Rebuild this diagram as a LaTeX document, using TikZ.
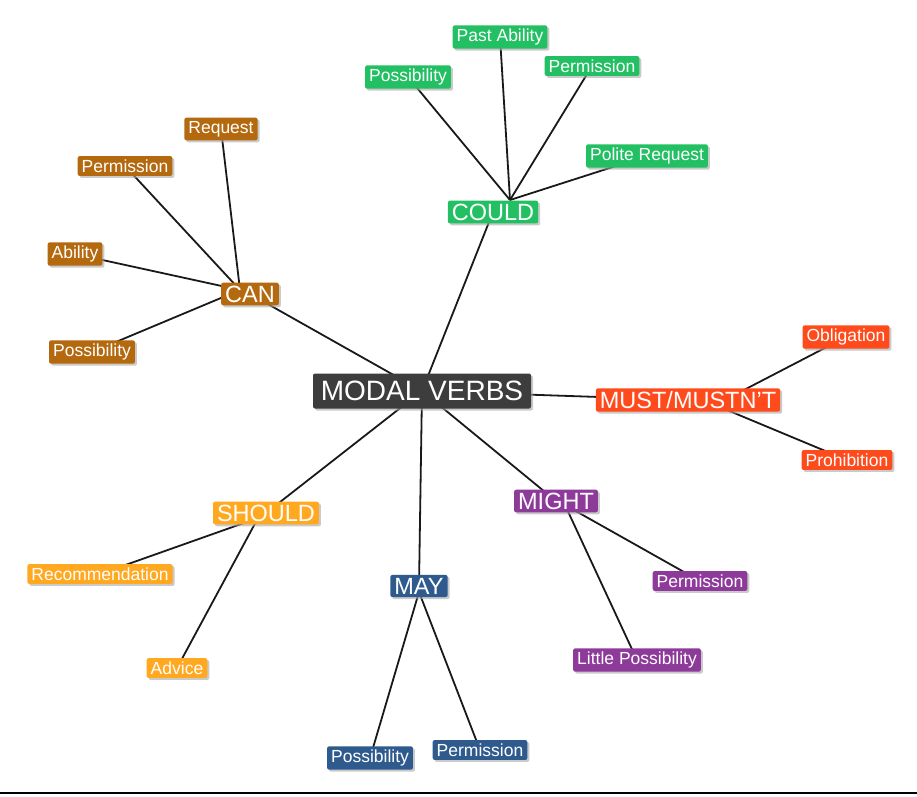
\documentclass[tikz,border=0pt]{standalone}
\usepackage{fontspec}
\setmainfont{Liberation Sans}
\usetikzlibrary{shadows}
\pgfdeclarelayer{bg}\pgfsetlayers{bg,main}
\definecolor{cmain}{HTML}{3D3D3D}
\definecolor{cgreen}{HTML}{22C063}
\definecolor{cbrown}{HTML}{B5690F}
\definecolor{cred}{HTML}{FF4A1C}
\definecolor{cpurple}{HTML}{8E3A9A}
\definecolor{cblue}{HTML}{2F5A8E}
\definecolor{corange}{HTML}{FFA820}
\begin{document}
\begin{tikzpicture}[x=1pt,y=-1pt,
  box/.style={text=white,inner xsep=4pt,inner ysep=3.5pt,rounded corners=2pt,
    drop shadow={shadow xshift=2pt,shadow yshift=-2pt,fill=black!35,opacity=0.6},
    font=\fontsize{17.5}{19}\selectfont},
  hub/.style={box,font=\fontsize{23.5}{25}\selectfont,inner ysep=3pt},
  link/.style={draw=black!90,line width=1.8pt}]
\useasboundingbox (0,0) rectangle (917,796);
\draw[line width=2pt] (0,793) -- (917,793);
\node[hub,fill=cmain,font=\fontsize{28}{30}\selectfont,minimum width=218pt,minimum height=35pt] (mv) at (422,391) {MODAL VERBS};
\node[hub,fill=cgreen] (could) at (493,212) {COULD};
\node[box,fill=cgreen] (c1) at (500,37) {Past Ability};
\node[box,fill=cgreen] (c2) at (408,77) {Possibility};
\node[box,fill=cgreen] (c3) at (592,66) {Permission};
\node[box,fill=cgreen] (c4) at (647,156) {Polite Request};
\node[hub,fill=cbrown] (can) at (250,294) {CAN};
\node[box,fill=cbrown] (a1) at (221,129) {Request};
\node[box,fill=cbrown] (a2) at (125,166) {Permission};
\node[box,fill=cbrown] (a3) at (75,254) {Ability};
\node[box,fill=cbrown] (a4) at (92,352) {Possibility};
\node[hub,fill=cred] (must) at (688,400) {MUST/MUSTN'T};
\node[box,fill=cred] (m1) at (846,337) {Obligation};
\node[box,fill=cred] (m2) at (847,460) {Prohibition};
\node[hub,fill=cpurple] (might) at (556,501) {MIGHT};
\node[box,fill=cpurple] (g1) at (700,581) {Permission};
\node[box,fill=cpurple] (g2) at (637,660) {Little Possibility};
\node[hub,fill=cblue] (may) at (419,586) {MAY};
\node[box,fill=cblue] (y1) at (370,758) {Possibility};
\node[box,fill=cblue] (y2) at (480,750) {Permission};
\node[hub,fill=corange] (should) at (266,513) {SHOULD};
\node[box,fill=corange] (s1) at (100,574) {Recommendation};
\node[box,fill=corange] (s2) at (177,668) {Advice};
\begin{pgfonlayer}{bg}
\coordinate (cj) at (510,200);
\coordinate (aj) at (240,290);
\coordinate (mj) at (715,405);
\coordinate (gj) at (565,505);
\coordinate (yj) at (419,592);
\coordinate (sj) at (258,518);
\draw[link] (mv.center) -- (could.center);
\draw[link] (mv.center) -- (can.center);
\draw[link] (mv.center) -- (must.center);
\draw[link] (mv.center) -- (might.center);
\draw[link] (mv.center) -- (may.center);
\draw[link] (mv.center) -- (should.center);
\foreach \n in {c1,c2,c3,c4} \draw[link] (cj) -- (\n.center);
\foreach \n in {a1,a2,a3,a4} \draw[link] (aj) -- (\n.center);
\foreach \n in {m1,m2} \draw[link] (mj) -- (\n.center);
\foreach \n in {g1,g2} \draw[link] (gj) -- (\n.center);
\foreach \n in {y1,y2} \draw[link] (yj) -- (\n.center);
\foreach \n in {s1,s2} \draw[link] (sj) -- (\n.center);
\end{pgfonlayer}
\end{tikzpicture}
\end{document}
